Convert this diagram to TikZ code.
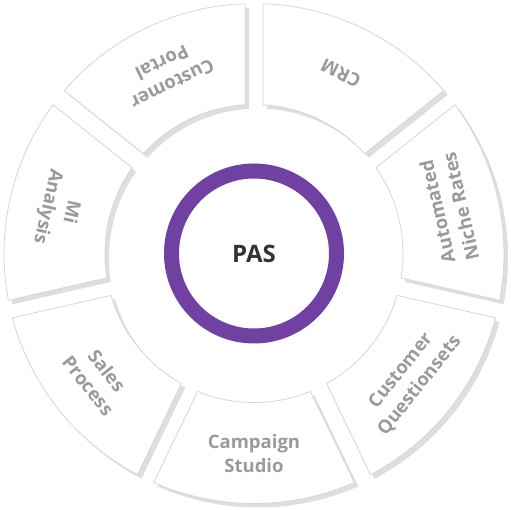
\documentclass[tikz,border=0pt]{standalone}
\usepackage{fontspec}
\setmainfont{Open Sans}
\definecolor{ringc}{HTML}{7041A2}
\definecolor{segline}{HTML}{D6D6D6}
\definecolor{segshade}{HTML}{DEDEDE}
\definecolor{labelc}{HTML}{9A9A9A}
\definecolor{pasc}{HTML}{333333}
\tikzset{
  segbox/.style={fill=white, draw=segline, line width=0.8bp, line join=round},
  segshadow/.style={fill=segshade},
  seglabel/.style={text=labelc, font=\fontsize{18.5bp}{24bp}\selectfont\bfseries, align=center, inner sep=0pt},
  pasring/.style={circle, draw=ringc, line width=15bp, minimum size=165bp, inner sep=0pt, fill=white,
    text=pasc, font=\fontsize{24bp}{28bp}\selectfont\bfseries}
}
\begin{document}
\begin{tikzpicture}[x=1bp,y=1bp]
\useasboundingbox (-254,-256.5) rectangle (256,253.5);
\pgfmathsetmacro\ao{asin(9/250)}
\pgfmathsetmacro\ai{asin(9/149)}
% shadows
\foreach \k in {0,...,6} {
  \pgfmathsetmacro\pa{90-\k*360/7}
  \pgfmathsetmacro\pb{\pa-360/7}
  \fill[segshadow, shift={(4,-4)}] (\pa-\ao:250) arc[start angle=\pa-\ao, end angle=\pb+\ao, radius=250]
     -- (\pb+\ai:149) arc[start angle=\pb+\ai, end angle=\pa-\ai, radius=149] -- cycle;
}
% segments
\foreach \k in {0,...,6} {
  \pgfmathsetmacro\pa{90-\k*360/7}
  \pgfmathsetmacro\pb{\pa-360/7}
  \path[segbox] (\pa-\ao:250) arc[start angle=\pa-\ao, end angle=\pb+\ao, radius=250]
     -- (\pb+\ai:149) arc[start angle=\pb+\ai, end angle=\pa-\ai, radius=149] -- cycle;
}
% labels
\foreach \k/\nm/\txt in {0/crm/CRM, 1/anr/{Automated\\Niche Rates}, 2/cq/{Customer\\Questionsets},
   3/cs/{Campaign\\Studio}, 4/sp/{Sales\\Process}, 5/mi/{Mi\\Analysis}, 6/cp/{Customer\\Portal}} {
  \pgfmathsetmacro\th{90-(\k+0.5)*360/7}
  \node[seglabel, rotate=\th+90] (\nm) at (\th:200) {\txt};
}
\node[pasring] (pas) at (0,0) {PAS};
\end{tikzpicture}
\end{document}
